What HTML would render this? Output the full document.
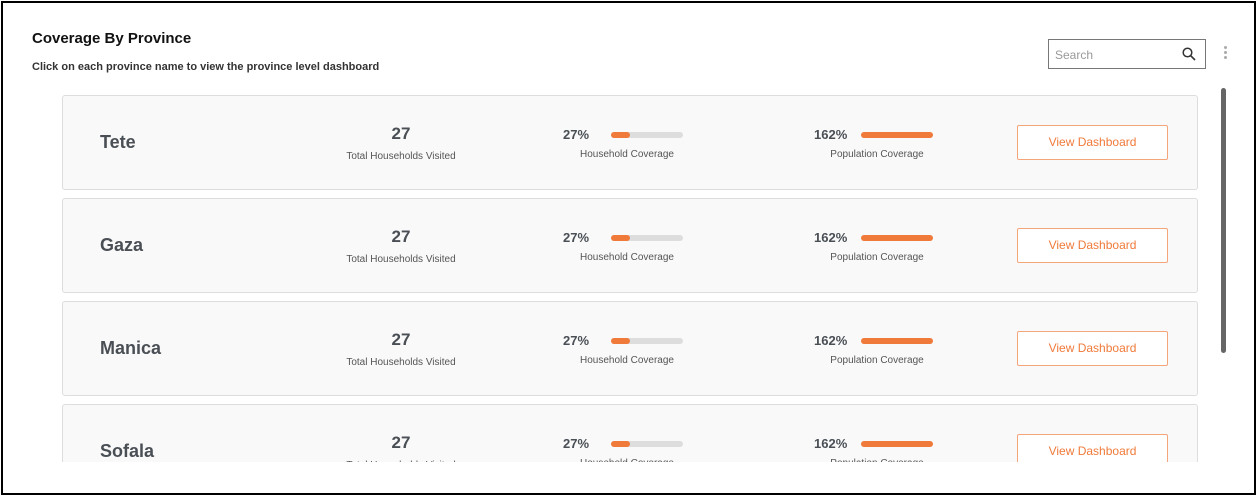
<!DOCTYPE html>
<html><head><style>
*{margin:0;padding:0;box-sizing:border-box}
body{width:1258px;height:498px;background:#fff;font-family:"Liberation Sans",sans-serif;position:relative;overflow:hidden}
.frame{position:absolute;left:1px;top:1px;width:1255px;height:494px;border:2px solid #000}
.t{position:absolute;left:32px;top:30px;font-size:15px;font-weight:bold;color:#111}
.s{position:absolute;left:32px;top:61px;font-size:11px;font-weight:bold;color:#333}
.search{position:absolute;left:1048px;top:39px;width:158px;height:30px;border:1px solid #777;font-size:12px;color:#999;padding:8px 0 0 6px}
.dots{position:absolute;left:1224px;top:46px;width:3px}
.dots i{display:block;width:3px;height:3px;border-radius:50%;background:#aaa;margin-bottom:2px}
.sb{position:absolute;left:1221px;top:88px;width:5px;height:265px;background:#666;border-radius:3px}
.clip{position:absolute;left:0;top:0;width:1258px;height:462px;overflow:hidden}
.card{position:absolute;left:62px;width:1136px;height:95px;background:#f9f9f9;border:1px solid #ddd;border-radius:3px}
.name{position:absolute;left:37px;top:36px;font-size:18px;font-weight:bold;color:#4a4f55}
.num{position:absolute;left:280px;width:116px;top:28px;text-align:center;font-size:17px;font-weight:bold;color:#4a4f55}
.lab{position:absolute;font-size:10px;color:#555;text-align:center}
.pct{position:absolute;top:31px;font-size:13px;font-weight:bold;color:#4a4f55}
.bar{position:absolute;top:36px;height:6px;border-radius:3px;background:#ddd;width:72px}
.bar b{display:block;height:6px;border-radius:3px;background:#f07a3a}
.btn{position:absolute;left:954px;top:29px;width:151px;height:35px;border:1px solid #f4a57a;border-radius:2px;background:#fff;color:#f07a3a;font-size:12px;text-align:center;line-height:33px}
</style></head><body>
<div class="t">Coverage By Province</div>
<div class="s">Click on each province name to view the province level dashboard</div>
<div class="search">Search<svg style="position:absolute;right:9px;top:7px" width="14" height="14" viewBox="0 0 14 14"><circle cx="5.5" cy="5.5" r="4.3" fill="none" stroke="#333" stroke-width="1.5"/><line x1="8.7" y1="8.7" x2="13" y2="13" stroke="#333" stroke-width="1.6"/></svg></div>
<div class="dots"><i></i><i></i><i></i></div>
<div class="sb"></div>
<div class="clip">
<div class="card" style="top:95px"><div class="name">Tete</div><div class="num">27</div><div class="lab" style="left:270px;width:136px;top:55px">Total Households Visited</div><div class="pct" style="left:500px">27%</div><div class="bar" style="left:548px"><b style="width:19px"></b></div><div class="lab" style="left:500px;width:128px;top:53px">Household Coverage</div><div class="pct" style="left:751px">162%</div><div class="bar" style="left:798px"><b style="width:72px"></b></div><div class="lab" style="left:750px;width:128px;top:53px">Population Coverage</div><div class="btn">View Dashboard</div></div>
<div class="card" style="top:198px"><div class="name">Gaza</div><div class="num">27</div><div class="lab" style="left:270px;width:136px;top:55px">Total Households Visited</div><div class="pct" style="left:500px">27%</div><div class="bar" style="left:548px"><b style="width:19px"></b></div><div class="lab" style="left:500px;width:128px;top:53px">Household Coverage</div><div class="pct" style="left:751px">162%</div><div class="bar" style="left:798px"><b style="width:72px"></b></div><div class="lab" style="left:750px;width:128px;top:53px">Population Coverage</div><div class="btn">View Dashboard</div></div>
<div class="card" style="top:301px"><div class="name">Manica</div><div class="num">27</div><div class="lab" style="left:270px;width:136px;top:55px">Total Households Visited</div><div class="pct" style="left:500px">27%</div><div class="bar" style="left:548px"><b style="width:19px"></b></div><div class="lab" style="left:500px;width:128px;top:53px">Household Coverage</div><div class="pct" style="left:751px">162%</div><div class="bar" style="left:798px"><b style="width:72px"></b></div><div class="lab" style="left:750px;width:128px;top:53px">Population Coverage</div><div class="btn">View Dashboard</div></div>
<div class="card" style="top:404px"><div class="name">Sofala</div><div class="num">27</div><div class="lab" style="left:270px;width:136px;top:55px">Total Households Visited</div><div class="pct" style="left:500px">27%</div><div class="bar" style="left:548px"><b style="width:19px"></b></div><div class="lab" style="left:500px;width:128px;top:53px">Household Coverage</div><div class="pct" style="left:751px">162%</div><div class="bar" style="left:798px"><b style="width:72px"></b></div><div class="lab" style="left:750px;width:128px;top:53px">Population Coverage</div><div class="btn">View Dashboard</div></div>
</div>
<div class="frame"></div>
</body></html>
